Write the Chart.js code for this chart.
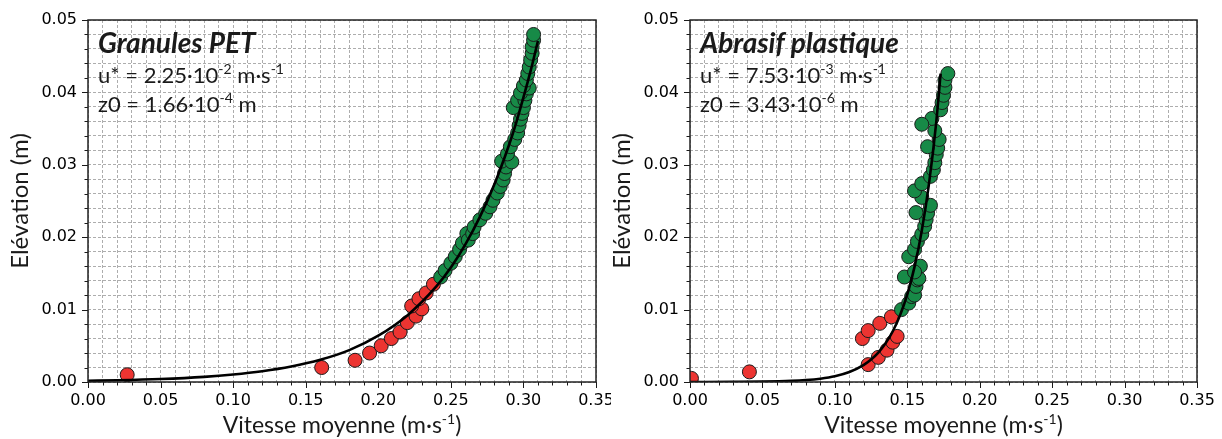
<!DOCTYPE html>
<html>
<head>
<meta charset="utf-8">
<script src="https://cdn.jsdelivr.net/npm/chart.js@4/dist/chart.umd.min.js"></script>
<style>
  html, body { margin: 0; padding: 0; background: #fff; }
  #wrap { display: flex; width: 1222px; height: 439px; }
  .cell { width: 611px; height: 439px; }
</style>
</head>
<body>
<div id="wrap">
  <div class="cell"><canvas id="cPET" width="611" height="439"></canvas></div>
  <div class="cell"><canvas id="cAbr" width="611" height="439"></canvas></div>
</div>
<script>
/* ── profils de vitesse : données ── */
var xTickLabels = ['0.00', '0.05', '0.10', '0.15', '0.20', '0.25', '0.30', '0.35'];
var yTickLabels = ['0.00', '0.01', '0.02', '0.03', '0.04', '0.05'];

// Granules PET
var petRedU = [0.027, 0.161, 0.184, 0.194, 0.202, 0.209, 0.215, 0.220, 0.226, 0.230, 0.223, 0.228, 0.233, 0.238];
var petRedZ = [0.0010, 0.0020, 0.0030, 0.0040, 0.0050, 0.0060, 0.0069, 0.0082, 0.0091, 0.0101, 0.0105, 0.0115, 0.0123, 0.0135];
var petGreenU = [0.243, 0.246, 0.250, 0.253, 0.256, 0.258, 0.261, 0.262, 0.265, 0.266, 0.270, 0.274, 0.277, 0.279,
  0.282, 0.284, 0.286, 0.287, 0.288, 0.285, 0.292, 0.289, 0.291, 0.294, 0.296, 0.297, 0.298, 0.299, 0.300, 0.293,
  0.296, 0.301, 0.302, 0.298, 0.304, 0.300, 0.302, 0.303, 0.304, 0.305, 0.306, 0.306, 0.307, 0.307];
var petGreenZ = [0.0145, 0.0154, 0.0164, 0.0173, 0.0183, 0.0192, 0.0205, 0.0196, 0.0205, 0.0214, 0.0224, 0.0233, 0.0242, 0.0251,
  0.0261, 0.0270, 0.0279, 0.0288, 0.0297, 0.0305, 0.0304, 0.0315, 0.0325, 0.0335, 0.0344, 0.0354, 0.0363, 0.0371, 0.0379, 0.0379,
  0.0389, 0.0389, 0.0398, 0.0399, 0.0406, 0.0409, 0.0417, 0.0426, 0.0435, 0.0445, 0.0454, 0.0463, 0.0472, 0.0480];
var petFitU = [0.000, 0.020, 0.050, 0.080, 0.100, 0.120, 0.140, 0.160, 0.180, 0.200, 0.220, 0.240, 0.250, 0.260, 0.270,
  0.280, 0.290, 0.295, 0.300, 0.305, 0.310];
var petFitZ = [0.00017, 0.00024, 0.00041, 0.00071, 0.00103, 0.00148, 0.00213, 0.00306, 0.0044, 0.0064, 0.0092, 0.0132,
  0.0158, 0.0190, 0.0228, 0.0273, 0.0327, 0.0358, 0.0393, 0.0430, 0.0471];

// Abrasif plastique
var abrRedU = [0.001, 0.041, 0.123, 0.130, 0.136, 0.140, 0.143, 0.119, 0.123, 0.131, 0.139];
var abrRedZ = [0.0005, 0.0014, 0.0024, 0.0034, 0.0044, 0.0055, 0.0063, 0.0060, 0.0071, 0.0081, 0.0090];
var abrGreenU = [0.146, 0.151, 0.153, 0.155, 0.148, 0.156, 0.157, 0.158, 0.159, 0.155, 0.151, 0.155, 0.157, 0.160,
  0.162, 0.163, 0.164, 0.166, 0.156, 0.160, 0.155, 0.160, 0.166, 0.168, 0.169, 0.170, 0.171, 0.164, 0.172, 0.169,
  0.167, 0.160, 0.173, 0.174, 0.175, 0.176, 0.176, 0.178];
var abrGreenZ = [0.0100, 0.0109, 0.0118, 0.0120, 0.0145, 0.0132, 0.0141, 0.0143, 0.0160, 0.0152, 0.0173, 0.0183, 0.0194,
  0.0204, 0.0215, 0.0224, 0.0233, 0.0244, 0.0234, 0.0255, 0.0264, 0.0274, 0.0284, 0.0293, 0.0303, 0.0314, 0.0323,
  0.0325, 0.0335, 0.0347, 0.0364, 0.0356, 0.0376, 0.0386, 0.0396, 0.0407, 0.0417, 0.0426];
var abrFitU = [0.000, 0.030, 0.050, 0.070, 0.080, 0.090, 0.100, 0.110, 0.120, 0.125, 0.130, 0.135, 0.140, 0.145,
  0.150, 0.155, 0.160, 0.165, 0.170, 0.173];
var abrFitZ = [0.000003, 0.000018, 0.000052, 0.000155, 0.000267, 0.00046, 0.00079, 0.00137, 0.00236, 0.0031, 0.00407,
  0.00534, 0.00701, 0.00921, 0.0121, 0.0159, 0.0209, 0.0274, 0.0359, 0.0426];

/* ── helpers ── */
function pts(u, z) { return u.map(function (v, i) { return { x: v, y: z[i] }; }); }
function isMul(v, step) { var r = v / step; return Math.abs(r - Math.round(r)) < 1e-6; }

var RED = '#ec3431', GREEN = '#178a47', EDGE = '#1a1a1a';
var TXT = 'Lato, "Open Sans", sans-serif';

// texte avec exposants : segments commençant par ^ sont en exposant
function richWidth(ctx, parts, size) {
  var w = 0;
  parts.forEach(function (p) {
    var sup = p.charAt(0) === '^', t = sup ? p.slice(1) : p;
    ctx.font = (sup ? Math.round(size * 0.62) : size) + 'px ' + TXT;
    w += ctx.measureText(t).width;
  });
  return w;
}
function richText(ctx, x, y, parts, size) {
  ctx.textBaseline = 'alphabetic'; ctx.textAlign = 'left';
  parts.forEach(function (p) {
    var sup = p.charAt(0) === '^', t = sup ? p.slice(1) : p;
    ctx.font = (sup ? Math.round(size * 0.62) : size) + 'px ' + TXT;
    ctx.fillText(t, x, sup ? y - size * 0.4 : y);
    x += ctx.measureText(t).width;
  });
}

function makeChart(id, cfg) {
  var deco = {
    id: 'deco_' + id,
    afterDatasetsDraw: function (chart) {
      var ctx = chart.ctx, a = chart.chartArea, xs = chart.scales.x, ys = chart.scales.y;
      ctx.save();
      // ticks sortants (majeurs longs, mineurs courts)
      ctx.strokeStyle = EDGE; ctx.lineWidth = 1;
      xs.ticks.forEach(function (t) {
        var px = Math.round(xs.getPixelForValue(t.value)) + 0.5;
        var len = isMul(t.value, 0.05) ? 6 : 3.5;
        ctx.beginPath(); ctx.moveTo(px, a.bottom); ctx.lineTo(px, a.bottom + len); ctx.stroke();
      });
      ys.ticks.forEach(function (t) {
        var py = Math.round(ys.getPixelForValue(t.value)) + 0.5;
        var len = isMul(t.value, 0.01) ? 6 : 3.5;
        ctx.beginPath(); ctx.moveTo(a.left, py); ctx.lineTo(a.left - len, py); ctx.stroke();
      });
      // cadre
      ctx.lineWidth = 1.5; ctx.strokeStyle = '#222';
      ctx.strokeRect(a.left, a.top, a.right - a.left, a.bottom - a.top);
      // annotations
      ctx.fillStyle = '#1a1a1a';
      ctx.font = 'italic bold 28px ' + TXT; ctx.textBaseline = 'alphabetic'; ctx.textAlign = 'left';
      ctx.fillText(cfg.title, a.left + 10, 53);
      richText(ctx, a.left + 10, 83, cfg.ustar, 22);
      richText(ctx, a.left + 10, 112, cfg.z0, 22);
      // titre de l'axe x
      var xt = ['Vitesse moyenne (m·s', '^-1', ')'];
      var w = richWidth(ctx, xt, 23);
      richText(ctx, (a.left + a.right) / 2 - w / 2, 433, xt, 23);
      ctx.restore();
    }
  };

  return new Chart(document.getElementById(id), {
    type: 'scatter',
    data: {
      datasets: [
        { type: 'line', data: pts(cfg.fitU, cfg.fitZ), borderColor: '#000', borderWidth: 2.6, pointRadius: 0,
          fill: false, cubicInterpolationMode: 'monotone', order: 0, clip: 0 },
        { data: pts(cfg.greenU, cfg.greenZ), backgroundColor: GREEN, borderColor: EDGE, borderWidth: 1,
          pointRadius: 7, order: 1, clip: 0 },
        { data: pts(cfg.redU, cfg.redZ), backgroundColor: RED, borderColor: EDGE, borderWidth: 1,
          pointRadius: 7, order: 2, clip: 0 },
      ]
    },
    options: {
      responsive: false, animation: false, devicePixelRatio: 1,
      layout: { padding: { top: 20, right: cfg.padRight, bottom: 0, left: 0 } },
      plugins: { legend: { display: false }, tooltip: { enabled: false } },
      scales: {
        x: {
          type: 'linear', min: 0, max: 0.35,
          afterFit: function (s) { s.height = 57; s.paddingLeft = 0; s.paddingRight = 0; },
          ticks: {
            stepSize: 0.01, autoSkip: false, maxRotation: 0, padding: 9, color: '#000',
            font: { family: '"DejaVu Sans"', size: 16 },
            callback: function (v) { return isMul(v, 0.05) ? xTickLabels[Math.round(v / 0.05)] : ''; }
          },
          grid: { color: '#adadad', lineWidth: 1, drawTicks: false },
          border: { display: false, dash: [3, 2] }
        },
        y: {
          type: 'linear', min: 0, max: 0.05,
          afterFit: function (s) { s.width = cfg.yWidth; s.paddingTop = 0; s.paddingBottom = 0; },
          ticks: {
            stepSize: 0.002, autoSkip: false, padding: 11, color: '#000',
            font: { family: '"DejaVu Sans"', size: 16 },
            callback: function (v) { return isMul(v, 0.01) ? yTickLabels[Math.round(v / 0.01)] : ''; }
          },
          grid: { color: '#adadad', lineWidth: 1, drawTicks: false },
          border: { display: false, dash: [3, 2] },
          title: { display: true, text: 'Elévation (m)', color: '#1a1a1a',
            font: { family: TXT, size: 24 }, padding: { top: cfg.yTitlePad, bottom: 0 } }
        }
      }
    },
    plugins: [deco]
  });
}

makeChart('cPET', {
  title: 'Granules PET',
  ustar: ['u* = 2.25·10', '^-2', ' m·s', '^-1'],
  z0: ['z0 = 1.66·10', '^-4', ' m'],
  redU: petRedU, redZ: petRedZ, greenU: petGreenU, greenZ: petGreenZ, fitU: petFitU, fitZ: petFitZ,
  yWidth: 88, padRight: 15, yTitlePad: 6
});
makeChart('cAbr', {
  title: 'Abrasif plastique',
  ustar: ['u* = 7.53·10', '^-3', ' m·s', '^-1'],
  z0: ['z0 = 3.43·10', '^-6', ' m'],
  redU: abrRedU, redZ: abrRedZ, greenU: abrGreenU, greenZ: abrGreenZ, fitU: abrFitU, fitZ: abrFitZ,
  yWidth: 79, padRight: 25, yTitlePad: -3
});
</script>
</body>
</html>
